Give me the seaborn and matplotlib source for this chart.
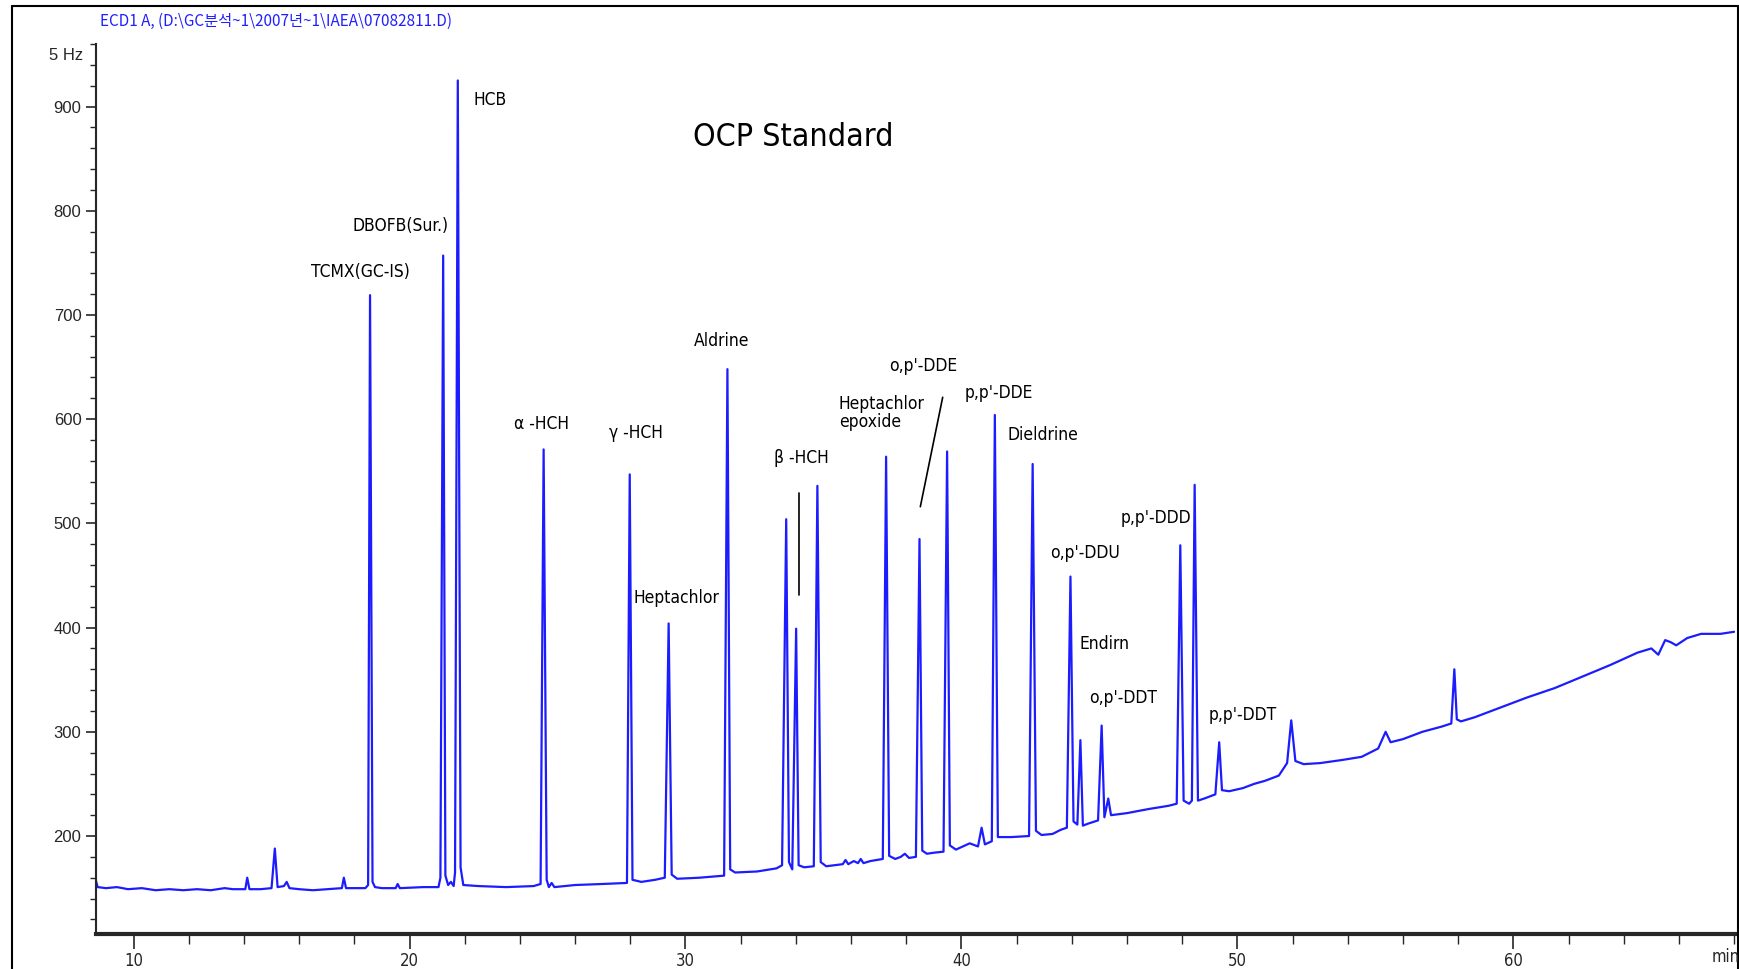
import pandas as pd
import matplotlib
matplotlib.use("Agg")
import matplotlib.pyplot as plt
import seaborn as sns
from matplotlib.ticker import MultipleLocator, FixedLocator
from matplotlib.lines import Line2D

# === Chromatogram trace (min, signal) ===
trace_time = [
    8.64, 8.70, 9.00, 9.40, 9.80, 10.30, 10.80, 11.30, 11.80, 12.30, 12.80, 13.30, 13.60,
    14.05, 14.12, 14.20, 14.60, 15.00, 15.12, 15.22, 15.45, 15.55, 15.65, 16.00, 16.50,
    17.00, 17.55, 17.62, 17.70, 18.40, 18.50, 18.57, 18.66, 18.75, 19.00, 19.50, 19.57,
    19.65, 20.50, 21.05, 21.12, 21.22, 21.30, 21.40, 21.50, 21.60, 21.65, 21.75, 21.85,
    21.95, 22.50, 23.50, 24.50, 24.75, 24.86, 24.97, 25.05, 25.15, 25.25, 26.00, 27.00,
    27.88, 27.98, 28.08, 28.40, 28.90, 29.25, 29.39, 29.50, 29.70, 30.50, 31.40, 31.52,
    31.62, 31.80, 32.60, 33.30, 33.50, 33.65, 33.75, 33.87, 34.01, 34.10, 34.30, 34.65,
    34.78, 34.90, 35.10, 35.70, 35.80, 35.90, 36.10, 36.25, 36.35, 36.45, 36.70, 37.15,
    37.27, 37.38, 37.60, 37.80, 37.95, 38.10, 38.35, 38.48, 38.58, 38.75, 39.00, 39.35,
    39.48, 39.58, 39.80, 40.30, 40.60, 40.73, 40.85, 41.10, 41.21, 41.32, 41.80, 42.45,
    42.58, 42.70, 42.90, 43.30, 43.60, 43.82, 43.95, 44.06, 44.20, 44.31, 44.40, 44.60,
    44.95, 45.08, 45.18, 45.32, 45.42, 46.00, 46.80, 47.50, 47.80, 47.93, 48.05, 48.25,
    48.35, 48.45, 48.57, 48.80, 49.20, 49.34, 49.44, 49.70, 50.20, 50.60, 51.00, 51.50,
    51.80, 51.95, 52.10, 52.40, 53.00, 53.80, 54.50, 55.10, 55.37, 55.55, 56.00, 56.70,
    57.40, 57.75, 57.86, 57.95, 58.10, 58.60, 59.50, 60.50, 61.50, 62.50, 63.50, 64.50,
    65.00, 65.25, 65.50, 65.70, 65.90, 66.30, 66.80, 67.50, 68.00,
]
trace_signal = [
    157, 151, 150, 151, 149, 150, 148, 149, 148, 149, 148, 150, 149,
    149, 160, 149, 149, 150, 188, 151, 152, 156, 150, 149, 148,
    149, 150, 160, 150, 150, 153, 719, 156, 151, 150, 150, 154,
    150, 151, 151, 160, 757, 162, 153, 156, 152, 165, 925, 170,
    153, 152, 151, 152, 154, 571, 158, 151, 155, 151, 153, 154,
    155, 547, 158, 156, 158, 160, 404, 163, 159, 160, 162, 648,
    168, 165, 166, 169, 172, 504, 175, 168, 399, 172, 170, 171,
    536, 175, 171, 173, 177, 173, 176, 174, 178, 174, 176, 178,
    564, 181, 178, 180, 183, 179, 180, 485, 186, 183, 184, 185,
    569, 191, 187, 193, 190, 208, 192, 195, 604, 199, 199, 200,
    557, 205, 201, 202, 206, 208, 449, 214, 211, 292, 210, 212,
    215, 306, 218, 236, 220, 222, 226, 229, 231, 479, 234, 231,
    234, 537, 234, 236, 240, 290, 244, 243, 246, 250, 253, 258,
    270, 311, 272, 269, 270, 273, 276, 284, 300, 290, 293, 300,
    305, 308, 360, 312, 310, 314, 323, 333, 342, 353, 364, 376,
    380, 374, 388, 386, 383, 390, 394, 394, 396,
]

# === Peak labels (left edge, vertical centre) ===
peak_labels = ["TCMX(GC-IS)", "DBOFB(Sur.)", "HCB", "α -HCH", "γ -HCH", "Heptachlor",
               "Aldrine", "β -HCH", "Heptachlor\nepoxide", "o,p'-DDE", "p,p'-DDE",
               "Dieldrine", "p,p'-DDD", "o,p'-DDU", "Endirn", "o,p'-DDT", "p,p'-DDT"]
label_time = [16.44, 17.94, 22.32, 23.80, 27.22, 28.10, 30.32, 33.21, 35.55, 37.39,
              40.12, 41.66, 45.75, 43.22, 44.27, 44.63, 48.97]
label_signal = [741, 785, 906, 595, 587, 428, 675, 563, 606, 651, 625, 585, 505, 472,
                384, 332, 316]

# pointer lines
pointer_time = [[34.13, 34.13], [39.32, 38.51]]
pointer_signal = [[529, 431], [621, 516]]

sns.set_style("ticks")
narrow = ["DejaVu Sans Condensed", "DejaVu Sans"]
plt.rcParams['font.family'] = narrow
plt.rcParams['font.stretch'] = "condensed"

fig = plt.figure(figsize=(17.4, 9.69), dpi=100)
ax = fig.add_axes([96 / 1740, 1 - 934 / 969, (1735 - 96) / 1740, (934 - 44) / 969])

df = pd.DataFrame({"time": trace_time, "signal": trace_signal})
sns.lineplot(data=df, x="time", y="signal", ax=ax, color="#1c1cff", lw=1.6,
             sort=False, estimator=None)

for pt, ps in zip(pointer_time, pointer_signal):
    ax.plot(pt, ps, color="black", lw=1.2)

for name, t, v in zip(peak_labels, label_time, label_signal):
    ax.text(t, v, name, ha="left", va="center", fontsize=12.5, color="black",
            linespacing=1.0, stretch="condensed")

ax.text(30.27, 870, "OCP Standard", ha="left", va="center", fontsize=23, color="black",
        stretch="condensed")

ax.set_xlim(8.64, 68.03)
ax.set_ylim(106, 960)
ax.xaxis.set_major_locator(FixedLocator([10, 20, 30, 40, 50, 60]))
ax.xaxis.set_minor_locator(MultipleLocator(2))
ax.yaxis.set_major_locator(FixedLocator([200, 300, 400, 500, 600, 700, 800, 900]))
ax.yaxis.set_minor_locator(MultipleLocator(20))
ax.tick_params(axis="x", which="major", length=11, width=1.2, pad=2, labelsize=12)
ax.tick_params(axis="x", which="minor", length=7, width=1.0)
ax.tick_params(axis="y", which="major", length=7, width=1.2, labelsize=12)
ax.tick_params(axis="y", which="minor", length=4, width=1.0)
for lab in ax.get_yticklabels():
    lab.set_family(["Liberation Sans", "DejaVu Sans"])
ax.set_xlabel("")
ax.set_ylabel("")
sns.despine(ax=ax)
ax.spines["bottom"].set_linewidth(3)
ax.spines["left"].set_linewidth(1.5)

fig.text(1712 / 1740, 1 - 957 / 969, "min", ha="left", va="center", fontsize=12)
fig.text(83 / 1740, 1 - 55 / 969, "5 Hz", ha="right", va="center", fontsize=12,
         family=["Liberation Sans", "DejaVu Sans"])
fig.text(100 / 1740, 1 - 21 / 969, "ECD1 A, (D:\\GC분석~1\\2007년~1\\IAEA\\07082811.D)",
         ha="left", va="center", fontsize=11, color="#2020ff",
         family=["DejaVu Sans Condensed", "Noto Sans CJK KR", "DejaVu Sans"])

# outer frame
fig.add_artist(Line2D([12 / 1740, 12 / 1740], [0, 1 - 6 / 969], color="black", lw=1.5))
fig.add_artist(Line2D([12 / 1740, 1738 / 1740], [1 - 6 / 969, 1 - 6 / 969], color="black", lw=1.5))
fig.add_artist(Line2D([1738 / 1740, 1738 / 1740], [0, 1 - 6 / 969], color="black", lw=1.5))

fig.savefig("out.png", dpi=100)
